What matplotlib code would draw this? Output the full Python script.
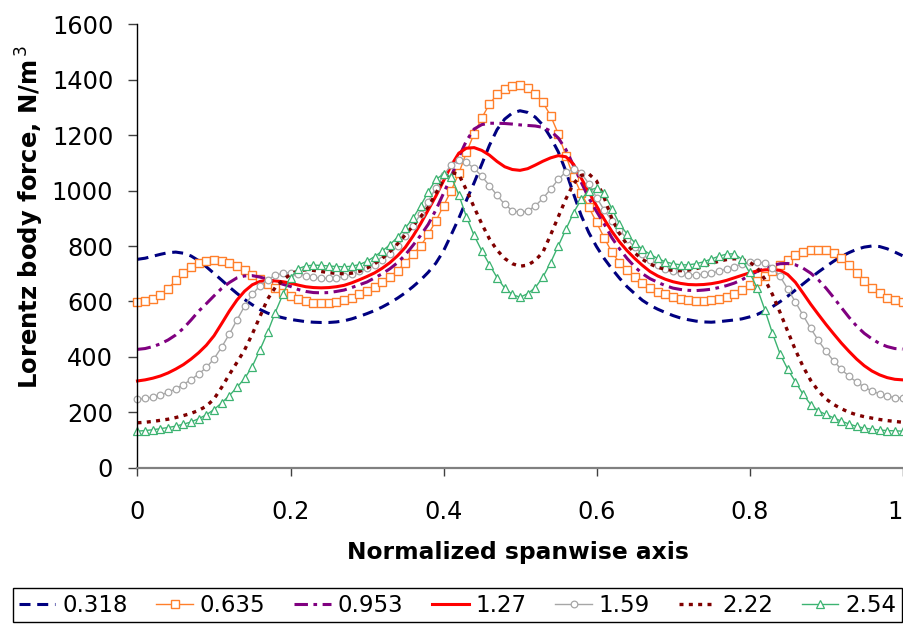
import numpy as np
import matplotlib
matplotlib.use("Agg")
import matplotlib.pyplot as plt

# spanwise stations (normalized), one every 0.01
span = np.round(np.arange(101) * 0.01, 2)

f_0318 = [752, 756, 763, 770, 776, 778, 774, 764, 747, 725,
          701, 677, 652, 629, 607, 588, 571, 558, 548, 541,
          535, 531, 527, 525, 524, 524, 526, 530, 537, 546,
          556, 567, 580, 595, 612, 631, 653, 677, 705, 738,
          782, 840, 900, 965, 1028, 1095, 1163, 1220, 1258, 1280,
          1288, 1282, 1265, 1236, 1192, 1140, 1070, 988, 910, 848,
          798, 755, 718, 684, 653, 628, 604, 586, 572, 560,
          549, 540, 534, 529, 526, 525, 527, 530, 533, 537,
          544, 553, 566, 581, 599, 619, 641, 663, 685, 706,
          726, 745, 762, 776, 788, 796, 800, 798, 790, 778,
          765]

f_0635 = [598, 601, 609, 624, 646, 676, 703, 724, 739, 747,
          750, 747, 740, 728, 713, 697, 681, 664, 647, 631,
          618, 607, 600, 596, 594, 595, 599, 605, 614, 625,
          638, 653, 670, 689, 711, 740, 770, 800, 842, 890,
          945, 1000, 1062, 1138, 1205, 1262, 1312, 1347, 1368, 1379,
          1381, 1371, 1350, 1318, 1270, 1205, 1125, 1050, 990, 940,
          885, 830, 778, 740, 713, 688, 667, 648, 634, 625,
          615, 608, 604, 602, 603, 605, 610, 617, 628, 643,
          658, 674, 692, 711, 731, 751, 767, 778, 784, 786,
          784, 774, 757, 732, 703, 675, 650, 630, 614, 604,
          599]

f_0953 = [427, 430, 437, 447, 461, 479, 503, 533, 565, 592,
          620, 647, 668, 685, 692, 693, 688, 680, 671, 662,
          654, 643, 636, 632, 631, 632, 636, 641, 650, 660,
          670, 685, 700, 718, 740, 768, 802, 838, 878, 930,
          990, 1050, 1120, 1180, 1222, 1238, 1243, 1243, 1242, 1240,
          1237, 1235, 1233, 1228, 1215, 1190, 1148, 1090, 1030, 973,
          925, 880, 830, 790, 755, 725, 700, 682, 669, 657,
          648, 643, 640, 639, 641, 644, 650, 657, 666, 678,
          694, 708, 720, 730, 736, 737, 732, 720, 702, 678,
          648, 614, 578, 543, 511, 485, 465, 448, 437, 430,
          428]

f_127 = [313, 317, 323, 331, 342, 356, 372, 392, 415, 442,
         476, 520, 565, 605, 637, 660, 672, 676, 674, 671,
         666, 659, 653, 650, 649, 650, 653, 658, 667, 678,
         690, 703, 720, 740, 765, 795, 835, 880, 930, 980,
         1035, 1090, 1135, 1153, 1155, 1145, 1128, 1105, 1086, 1076,
         1073, 1079, 1092, 1106, 1118, 1126, 1122, 1095, 1045, 995,
         945, 897, 853, 815, 783, 755, 730, 708, 692, 680,
         671, 665, 661, 660, 661, 664, 669, 676, 685, 694,
         703, 710, 714, 715, 712, 697, 669, 630, 590, 553,
         517, 483, 450, 420, 392, 368, 349, 335, 325, 319,
         317]

f_159 = [247, 250, 255, 262, 272, 285, 300, 318, 338, 362,
         393, 435, 482, 533, 583, 625, 657, 679, 694, 702,
         704, 700, 693, 687, 684, 683, 685, 690, 698, 708,
         719, 733, 750, 772, 800, 835, 872, 915, 960, 1010,
         1055, 1092, 1110, 1102, 1080, 1052, 1018, 983, 950, 928,
         921, 926, 945, 972, 1005, 1040, 1068, 1077, 1062, 1025,
         975, 930, 892, 858, 825, 795, 770, 750, 732, 718,
         708, 701, 697, 696, 698, 702, 709, 717, 726, 735,
         741, 743, 738, 722, 690, 645, 598, 550, 503, 459,
         420, 385, 355, 330, 309, 291, 277, 266, 258, 253,
         251]

f_222 = [162, 164, 167, 171, 175, 181, 188, 196, 207, 222,
         248, 290, 336, 380, 425, 482, 545, 608, 650, 677,
         698, 711, 714, 712, 708, 704, 701, 700, 702, 708,
         720, 736, 756, 780, 808, 840, 872, 905, 940, 990,
         1040, 1066, 1058, 1002, 940, 880, 826, 785, 755, 736,
         727, 731, 748, 778, 840, 905, 970, 1025, 1055, 1060,
         1035, 975, 900, 845, 805, 775, 752, 735, 723, 716,
         712, 711, 713, 718, 726, 737, 745, 751, 754, 752,
         742, 722, 680, 625, 560, 492, 425, 365, 315, 277,
         248, 228, 213, 200, 191, 184, 179, 174, 170, 167,
         164]

f_254 = [132, 134, 137, 141, 145, 150, 157, 165, 177, 191,
         210, 234, 260, 290, 322, 365, 425, 488, 560, 625,
         685, 718, 728, 731, 730, 728, 726, 725, 727, 733,
         745, 762, 782, 805, 832, 865, 900, 945, 995, 1040,
         1060, 1050, 985, 905, 838, 783, 733, 686, 648, 625,
         615, 628, 650, 688, 740, 800, 860, 920, 968, 1000,
         1010, 990, 935, 880, 843, 812, 788, 770, 755, 743,
         736, 732, 732, 736, 743, 753, 763, 771, 772, 752,
         705, 648, 570, 485, 410, 355, 310, 265, 228, 205,
         192, 180, 168, 158, 149, 143, 139, 136, 134, 133,
         132]

series_labels = ["0.318", "0.635", "0.953", "1.27", "1.59", "2.22", "2.54"]
series_values = [f_0318, f_0635, f_0953, f_127, f_159, f_222, f_254]

x_ticks = [0, 0.2, 0.4, 0.6, 0.8, 1]
x_tick_labels = ["0", "0.2", "0.4", "0.6", "0.8", "1"]
y_ticks = [0, 200, 400, 600, 800, 1000, 1200, 1400, 1600]

styles = [
    dict(color="#000080", lw=2.2, dashes=(3.6, 2.2)),
    dict(color="#FF7F2A", lw=1.0, marker="s", ms=5.6, mfc="white", mew=1.0),
    dict(color="#800080", lw=2.2, dashes=(4.4, 1.8, 1.2, 1.8)),
    dict(color="#FF0000", lw=2.2),
    dict(color="#A6A6A6", lw=1.0, marker="o", ms=4.8, mfc="white", mew=0.9),
    dict(color="#800000", lw=2.4, dashes=(1.2, 1.6)),
    dict(color="#3CB371", lw=1.0, marker="^", ms=6.0, mfc="white", mew=0.9),
]

plt.rcParams["font.family"] = ["DejaVu Sans"]

W, H = 904, 624
fig = plt.figure(figsize=(W / 100, H / 100), dpi=100)
ax = fig.add_axes([137.5 / W, 1 - 467.7 / H, 765 / W, 443.4 / H])

handles = []
for label, values, st in zip(series_labels, series_values, styles):
    (ln,) = ax.plot(span, values, label=label, clip_on=False, **st)
    handles.append(ln)

ax.set_xlim(0, 1)
ax.set_ylim(0, 1600)
ax.set_xticks(x_ticks)
ax.set_xticklabels(x_tick_labels)
ax.set_yticks(y_ticks)

for side in ("top", "right"):
    ax.spines[side].set_visible(False)
ax.spines["left"].set_color("black")
ax.spines["left"].set_linewidth(1.0)
ax.spines["bottom"].set_color("#808080")
ax.spines["bottom"].set_linewidth(1.6)

ax.tick_params(axis="y", direction="out", length=6.5, width=1, color="#404040",
               labelsize=17.3, pad=11)
ax.tick_params(axis="x", direction="out", length=6, width=1, color="#404040",
               labelsize=17.3, pad=17)
# keep the last x label inside the figure
ax.get_xticklabels()[-1].set_horizontalalignment("right")

fig.text(30 / W, 1 - 217 / H, "Lorentz body force, N/m$^{\\,3}$", rotation=90,
         ha="center", va="center", fontsize=17.5, fontweight="bold")
fig.text(518 / W, 1 - 553 / H, "Normalized spanwise axis",
         ha="center", va="center", fontsize=16.8, fontweight="bold")

leg = fig.legend(handles=handles, labels=series_labels, ncol=7,
                 loc="upper left", bbox_to_anchor=(13 / W, 0, 889 / W, 1 - 588 / H),
                 mode="expand", fontsize=16.5, frameon=True, fancybox=False,
                 edgecolor="black", framealpha=1, borderpad=0.25,
                 handlelength=1.6, handletextpad=0.3, columnspacing=0.3,
                 numpoints=1, borderaxespad=0)
leg.get_frame().set_linewidth(1.0)

fig.savefig("out.png", dpi=100)
